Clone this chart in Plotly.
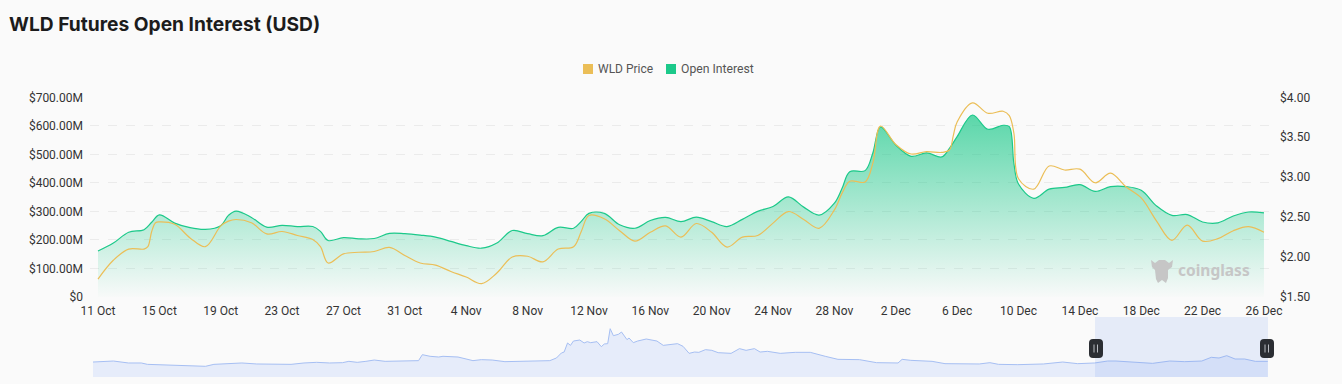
import pandas as pd
import plotly.graph_objects as go

W, H = 1342, 384
TITLE = "WLD Futures Open Interest (USD)"
START = pd.Timestamp("2024-10-11")
MINI_START = pd.Timestamp("2023-07-24")

oi_days = [0,1,2,3,3.5,4,5,6,7,8,8.5,9,10,11,12,13,14,14.5,15,16,17,18,19,20,21,22,23,24,25,26,27,28,29,30,31,31.5,32,33,34,35,36,37,38,39,40,41,42,43,44,45,46,47,48,48.5,49,50,50.5,51,52,53,54,55,55.5,56,57,58,59,59.4,59.7,60,61,62,63,64,65,66,67,68,69,70,71,72,73,74,75,76]
oi_values = [161,189,227,236,262,288,259,243,237,250,286,301,279,245,251,247,247,230,198,208,204,205,223,222,217,210,195,180,171,189,233,222,215,244,241,265,293,293,253,241,268,279,264,280,264,247,272,300,317,351,315,287,329,381,439,443,504,596,533,493,505,491,521,562,638,588,602,597,468,396,346,378,384,394,370,387,387,374,319,286,289,263,260,284,298,295]

price_days = [0,1,2,3,3.25,3.5,3.75,4,5,6,7,8,8.5,9,10,11,12,13,14,14.5,15,16,17,18,19,20,21,22,23,24,25,26,27,28,29,30,31,31.5,32,33,34,35,36,37,38,39,40,41,42,43,44,45,46,47,48,48.5,49,50,50.5,51,52,53,54,55,55.5,55.75,56,57,58,59,59.4,59.7,60,61,62,63,64,65,66,67,68,69,70,71,72,73,74,75,76]
price_values = [1.725,1.96,2.10,2.10,2.13,2.32,2.43,2.44,2.41,2.24,2.13,2.39,2.45,2.47,2.43,2.29,2.32,2.27,2.22,2.13,1.925,2.04,2.06,2.07,2.12,2.02,1.925,1.90,1.82,1.75,1.667,1.80,2.0,2.01,1.94,2.10,2.13,2.32,2.52,2.48,2.33,2.20,2.31,2.39,2.25,2.42,2.31,2.125,2.25,2.27,2.425,2.57,2.47,2.36,2.59,2.80,2.95,2.94,3.17,3.64,3.41,3.29,3.32,3.31,3.34,3.52,3.69,3.93,3.80,3.825,3.77,3.55,2.98,2.85,3.14,3.09,3.10,2.93,3.05,2.88,2.74,2.45,2.21,2.40,2.20,2.23,2.33,2.38,2.31]

mini_days = [0,4.3,9,15.6,21.3,24,30.7,38.2,43,49.6,53.3,59,65.6,72.2,79.7,87.3,93,98.6,104.3,110,112.8,116.5,120.3,124,128.8,136.3,143.5,145.2,148.6,152.4,154.3,160.9,165.6,167.5,171.2,176,181.6,189.2,194.8,201.4,204.3,206.5,207.7,209.2,210.5,211.8,214.6,216.5,217.9,219.4,222.2,224.1,225.4,226.9,228,229.4,231.6,233,235.4,236.3,238.2,240.1,243.9,248.6,251.4,254.9,257.7,260.1,262.8,265.2,267.1,270,272.8,275.6,281.3,285,287.9,291.6,294.1,297.3,300.1,303,309.6,316.2,322.8,328.4,337.9,345.4,354.9,356.7,360.5,366.2,369.9,375.6,385,390.7,395.4,399.2,407.7,419,427.5,434.1,441.6,447.3,451,458.6,467.1,474.7,481.3,488.8,493,496.4,499.8,503.5,507.7,512.4,517.9]
mini_values = [283,296,302,265,265,239,233,214,220,202,239,252,265,246,246,239,265,277,265,271,296,277,296,321,296,302,309,422,391,378,391,378,321,309,328,321,290,296,290,309,359,454,472,643,598,680,699,643,668,649,668,573,624,630,913,781,806,850,706,737,649,680,718,680,598,611,630,580,447,472,466,517,504,460,447,536,504,536,472,485,472,447,466,466,391,334,328,271,265,334,315,296,296,252,246,246,271,239,233,246,283,252,265,302,302,277,258,302,290,302,372,359,403,340,340,296,296]

x_tick_days = list(range(0, 77, 4))
oi_ticks = [0,100,200,300,400,500,600,700]
oi_ticktext = ["$0","$100.00M","$200.00M","$300.00M","$400.00M","$500.00M","$600.00M","$700.00M"]
price_ticks = [1.5,2.0,2.5,3.0,3.5,4.0]
price_ticktext = ["$1.50","$2.00","$2.50","$3.00","$3.50","$4.00"]

OI_COLOR = "#1cc98a"
PRICE_COLOR = "#ebbe57"
BG = "#fafafa"
TXT = "#333333"
FONT = "Roboto"


def to_dates(days, start=START):
    return [start + pd.Timedelta(days=float(d)) for d in days]


def px(x):
    return x / W


def py(y):
    return 1 - y / H


def paper_path(points):
    return " ".join(f"{c} {px(x):.5f},{py(y):.5f}" for c, x, y in points)


def rounded(x0, y0, x1, y1, r):
    def fx(v): return f"{px(v):.5f}"
    def fy(v): return f"{py(v):.5f}"
    return (f"M {fx(x0+r)},{fy(y0)} L {fx(x1-r)},{fy(y0)} Q {fx(x1)},{fy(y0)} {fx(x1)},{fy(y0+r)} "
            f"L {fx(x1)},{fy(y1-r)} Q {fx(x1)},{fy(y1)} {fx(x1-r)},{fy(y1)} "
            f"L {fx(x0+r)},{fy(y1)} Q {fx(x0)},{fy(y1)} {fx(x0)},{fy(y1-r)} "
            f"L {fx(x0)},{fy(y0+r)} Q {fx(x0)},{fy(y0)} {fx(x0+r)},{fy(y0)} Z")


fig = go.Figure()
fig.add_trace(go.Scatter(
    x=to_dates(oi_days), y=oi_values, name="Open Interest", mode="lines",
    line=dict(color=OI_COLOR, width=1.2, shape="spline", smoothing=1.0),
    fill="tozeroy",
    fillgradient=dict(type="vertical", start=640, stop=0,
                      colorscale=[[0, "rgba(28,201,138,0.72)"], [1, "rgba(28,201,138,0.01)"]]),
    xaxis="x", yaxis="y", showlegend=False, hoverinfo="skip"))
fig.add_trace(go.Scatter(
    x=to_dates(price_days), y=price_values, name="WLD Price", mode="lines",
    line=dict(color=PRICE_COLOR, width=1.2, shape="spline", smoothing=1.0),
    xaxis="x", yaxis="y2", showlegend=False, hoverinfo="skip"))
fig.add_trace(go.Scatter(
    x=to_dates(mini_days, MINI_START), y=mini_values, name="Overview", mode="lines",
    line=dict(color="#a6bff3", width=1), fill="tozeroy", fillcolor="#e6ecfa",
    xaxis="x2", yaxis="y3", showlegend=False, hoverinfo="skip"))

shapes = [
    dict(type="rect", xref="paper", yref="paper", x0=px(1095), x1=px(1268), y0=py(377), y1=py(317),
         fillcolor="rgba(125,160,240,0.17)", line_width=0, layer="above"),
    dict(type="rect", xref="paper", yref="paper", x0=px(583), x1=px(593), y0=py(74), y1=py(64),
         fillcolor=PRICE_COLOR, line_width=0),
    dict(type="rect", xref="paper", yref="paper", x0=px(666), x1=px(676), y0=py(74), y1=py(64),
         fillcolor=OI_COLOR, line_width=0),
]
for cx in (1096, 1267):
    shapes.append(dict(type="path", xref="paper", yref="paper", path=rounded(cx-7, 339, cx+7, 358, 4),
                       fillcolor="#2b2e33", line_width=0, layer="above"))
    for dx in (-2, 1.5):
        shapes.append(dict(type="line", xref="paper", yref="paper", x0=px(cx+dx), x1=px(cx+dx),
                           y0=py(344.5), y1=py(352.5), line=dict(color="#b9bcc2", width=1), layer="above"))
# mascot of the watermark
mascot = [("M",1151,260),("L",1155,263),("L",1159,260),("L",1165,260),("L",1169,263),("L",1173,260),
          ("L",1172,267),("L",1168,270),("L",1168,278),("L",1166,283),("L",1162,280),("L",1158,283),
          ("L",1156,279),("L",1155,270),("L",1152,267)]
shapes.append(dict(type="path", xref="paper", yref="paper", path=paper_path(mascot) + " Z",
                   fillcolor="#c6c6c6", line_width=0, layer="above"))

annotations = [
    dict(text=f"<b>{TITLE}</b>", xref="paper", yref="paper", x=px(7), y=py(24), xanchor="left", yanchor="middle",
         showarrow=False, font=dict(family="Inter", size=19.2, color="#1c1c1c")),
    dict(text="WLD Price", xref="paper", yref="paper", x=px(596), y=py(69), xanchor="left", yanchor="middle",
         showarrow=False, font=dict(family=FONT, size=12, color="#555555")),
    dict(text="Open Interest", xref="paper", yref="paper", x=px(679), y=py(69), xanchor="left", yanchor="middle",
         showarrow=False, font=dict(family=FONT, size=12.2, color="#555555")),
    dict(text="<b>coinglass</b>", xref="paper", yref="paper", x=px(1176), y=py(270), xanchor="left", yanchor="middle",
         showarrow=False, font=dict(family="Noto Sans", size=15.5, color="#c6c6c6")),
]

x0 = START - pd.Timedelta(hours=12.5)
x1 = START + pd.Timedelta(days=76) + pd.Timedelta(hours=11)
# one pixel of slack above and below, so the $0 and $700M grid lines are kept
oi_pad = 700 / 199.7
price_pad = 2.5 / 199.7
fig.update_layout(
    width=W, height=H,
    margin=dict(l=0, r=0, t=0, b=0, pad=0, autoexpand=False),
    paper_bgcolor=BG, plot_bgcolor=BG, showlegend=False,
    font=dict(family=FONT, size=12, color=TXT),
    shapes=shapes, annotations=annotations,
    xaxis=dict(domain=[px(90), px(1271)], range=[x0, x1], type="date", anchor="y",
               tickvals=to_dates(x_tick_days), tickformat="%-d %b", showgrid=False, zeroline=False,
               showline=False, ticks="", tickfont=dict(size=12, color=TXT), ticklabelstandoff=4),
    yaxis=dict(domain=[py(298), py(96.3)], range=[-oi_pad, 700 + oi_pad], anchor="x",
               tickvals=oi_ticks, ticktext=oi_ticktext, showgrid=True,
               gridcolor="#ebebeb", griddash="dash", gridwidth=1, zeroline=False, showline=False,
               ticks="", tickfont=dict(size=12, color=TXT), ticklabelstandoff=6),
    yaxis2=dict(domain=[py(298), py(96.3)], range=[1.5 - price_pad, 4.0 + price_pad], anchor="x",
                overlaying="y", side="right",
                tickvals=price_ticks, ticktext=price_ticktext, showgrid=False, zeroline=False,
                showline=False, ticks="", tickfont=dict(size=12, color=TXT), ticklabelstandoff=8),
    xaxis2=dict(domain=[px(93), px(1268)], type="date", anchor="y3", visible=False,
                range=[MINI_START, MINI_START + pd.Timedelta(days=518)]),
    yaxis3=dict(domain=[py(377), py(317)], range=[0, 1134], anchor="x2", visible=False),
)
fig.write_html("out.html", config=dict(displayModeBar=False),
               post_script="document.documentElement.style.background='#fafafa';document.body.style.margin='0';document.body.style.overflow='hidden';")
